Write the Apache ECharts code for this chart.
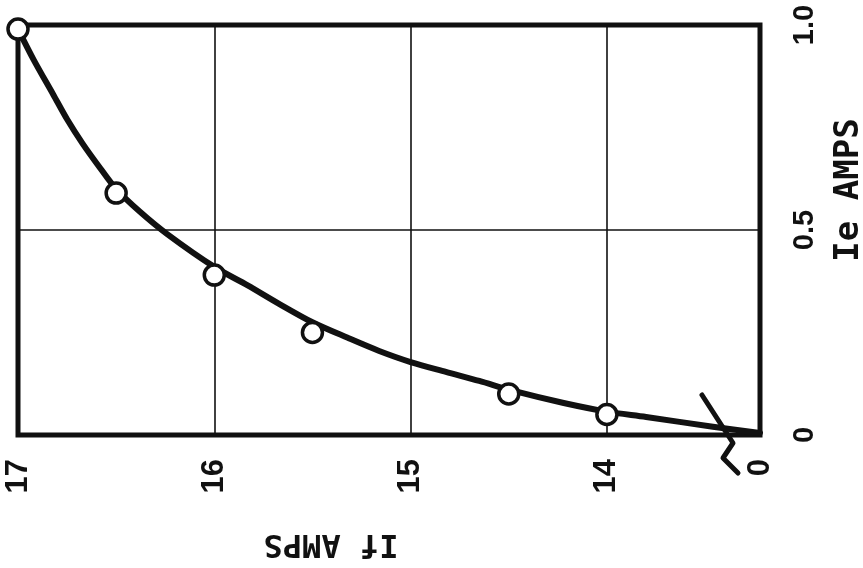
<!DOCTYPE html>
<html>
<head>
<meta charset="UTF-8">
<title>Ie vs If</title>
<script src="https://cdn.jsdelivr.net/npm/echarts@6/dist/echarts.min.js"></script>
<style>
  html, body { margin: 0; padding: 0; background: #fff; }
  #main { width: 863px; height: 568px; }
</style>
</head>
<body>
<div id="main"></div>
<script>
// smooth curve (If, Ie)
var curveIf = [17.0, 16.92, 16.82, 16.75, 16.67, 16.58, 16.5, 16.38, 16.24, 16.0, 15.83,
               15.67, 15.5, 15.32, 15.16, 15.0, 14.82, 14.65, 14.48, 14.22, 14.0, 13.8, 13.46, 13.22];
var curveIe = [0.99, 0.915, 0.83, 0.77, 0.71, 0.65, 0.6, 0.545, 0.49, 0.41, 0.365,
               0.32, 0.275, 0.237, 0.205, 0.178, 0.154, 0.132, 0.108, 0.078, 0.057, 0.044, 0.02, 0.005];

// measured points (circles)
var pointIf = [17.0, 16.5, 16.0, 15.5, 14.5, 14.0];
var pointIe = [0.99, 0.59, 0.39, 0.25, 0.10, 0.05];

// x ticks; the last one is the broken-axis zero
var xTicks = [17, 16, 15, 14, 13.22];
var xTickLabels = ['17', '16', '15', '14', '0'];

var ink = '#111';
var myChart = echarts.init(document.getElementById('main'));

function pairs(xs, ys) {
  return xs.map(function (x, i) { return [x, ys[i]]; });
}

myChart.setOption({
  backgroundColor: '#fff',
  animation: false,
  grid: {
    left: 18, right: 103, top: 25, bottom: 133,
    show: true,
    borderColor: ink,
    borderWidth: 5
  },
  xAxis: {
    type: 'value',
    inverse: true,
    min: 13.22,
    max: 17,
    axisLine: { show: false },
    axisTick: { show: false, customValues: xTicks },
    splitLine: { show: true, lineStyle: { color: ink, width: 1.6 } },
    axisLabel: {
      customValues: xTicks,
      rotate: 90,
      margin: 24,
      color: ink,
      fontFamily: 'Liberation Sans',
      fontWeight: 'bold',
      fontSize: 31,
      formatter: function (v) {
        var i = xTicks.indexOf(v);
        return i >= 0 ? xTickLabels[i] : '';
      }
    }
  },
  yAxis: {
    type: 'value',
    position: 'right',
    min: 0,
    max: 1,
    interval: 0.5,
    axisLine: { show: false },
    axisTick: { show: false },
    splitLine: { show: true, lineStyle: { color: ink, width: 1.6 } },
    axisLabel: {
      rotate: 90,
      margin: 30,
      color: ink,
      fontFamily: 'Liberation Sans',
      fontWeight: 'bold',
      fontSize: 29,
      formatter: function (v) { return v === 1 ? '1.0' : String(v); }
    }
  },
  series: [
    {
      type: 'line',
      data: pairs(curveIf, curveIe),
      smooth: 0.3,
      showSymbol: false,
      clip: false,
      lineStyle: { color: ink, width: 6, cap: 'round', join: 'round' },
      z: 3
    },
    {
      type: 'scatter',
      data: pairs(pointIf, pointIe),
      symbol: 'circle',
      symbolSize: 20,
      clip: false,
      itemStyle: { color: '#fff', borderColor: ink, borderWidth: 3.5, opacity: 1 },
      z: 4
    }
  ],
  graphic: [
    {
      type: 'text',
      x: 849, y: 190,
      rotation: Math.PI / 2,
      style: {
        text: 'Ie AMPS',
        x: 0, y: 0,
        align: 'center', verticalAlign: 'middle',
        fill: ink,
        font: 'bold 34px "DejaVu Sans Mono"'
      }
    },
    {
      type: 'text',
      x: 331, y: 543,
      rotation: Math.PI,
      style: {
        text: 'If AMPS',
        x: 0, y: 0,
        align: 'center', verticalAlign: 'middle',
        fill: ink,
        font: 'bold 32px "DejaVu Sans Mono"'
      }
    },
    {
      // axis break mark
      type: 'polyline',
      shape: { points: [[702, 395], [733, 443], [723, 458], [738, 473]] },
      style: { stroke: ink, lineWidth: 5, fill: null, lineJoin: 'round', lineCap: 'round' },
      z: 10
    }
  ]
});
</script>
</body>
</html>
